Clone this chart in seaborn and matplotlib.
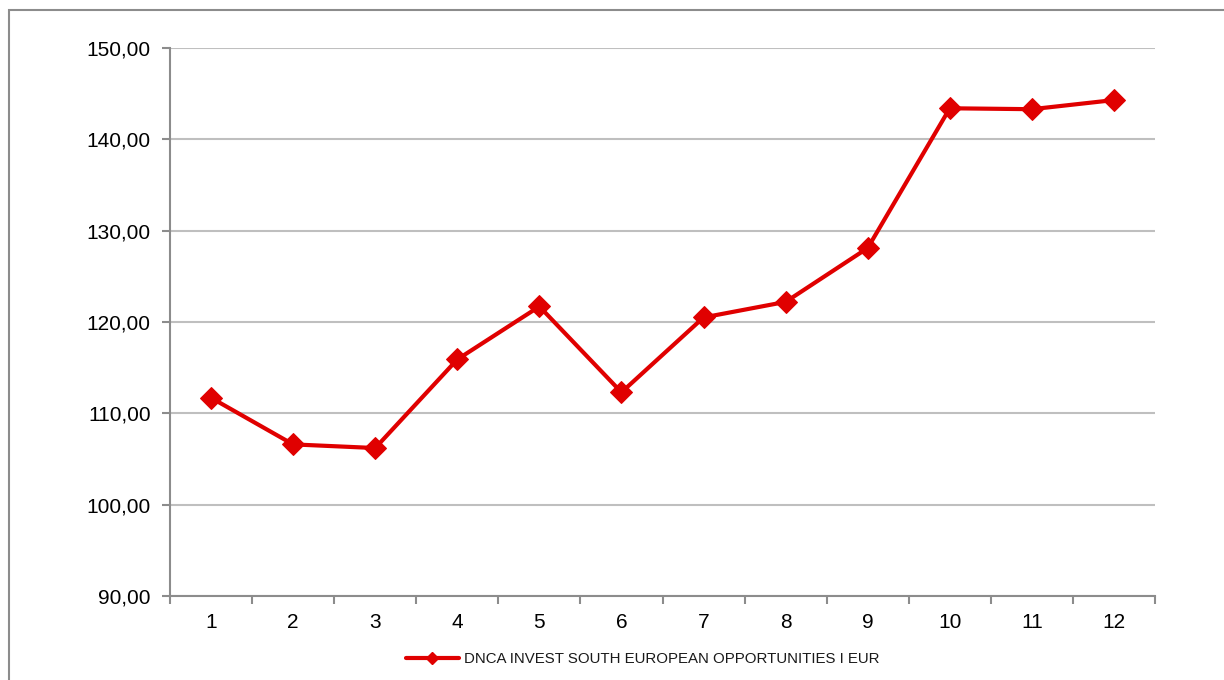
import matplotlib
matplotlib.use("Agg")
import matplotlib.pyplot as plt
import seaborn as sns
import pandas as pd
from matplotlib.ticker import FuncFormatter, FixedLocator
from matplotlib.patches import Rectangle

# data
periods = [1, 2, 3, 4, 5, 6, 7, 8, 9, 10, 11, 12]
values = [111.7, 106.6, 106.2, 115.9, 121.7, 112.3, 120.5, 122.2, 128.1, 143.4, 143.3, 144.3]
series_name = "DNCA INVEST SOUTH EUROPEAN OPPORTUNITIES I EUR"

df = pd.DataFrame({"period": periods, "value": values})

sns.set_style("white")
plt.rcParams['font.family'] = ['Liberation Sans', 'DejaVu Sans']

red = "#E00000"
fig = plt.figure(figsize=(12.24, 6.8), dpi=100)
ax = fig.add_axes([170 / 1224, 1 - 596 / 680, (1155 - 170) / 1224, (596 - 48) / 680])

# outer chart border
fig.patches.append(Rectangle((9 / 1224, -0.05), 1.1, 1 - 10 / 680 + 0.05, transform=fig.transFigure,
                             fill=False, edgecolor="#8c8c8c", linewidth=1.5))

sns.lineplot(data=df, x="period", y="value", ax=ax, color=red, linewidth=3,
             marker="D", markersize=11, markeredgecolor=red, label=series_name)

ax.set_ylim(90, 150)
ax.set_yticks(range(90, 151, 10))
ax.yaxis.set_major_formatter(FuncFormatter(lambda v, p: f"{v:.2f}".replace(".", ",")))
ax.set_xlim(0.5, 12.5)
ax.xaxis.set_major_locator(FixedLocator([p - 0.5 for p in periods] + [12.5]))
ax.xaxis.set_minor_locator(FixedLocator(periods))
ax.set_xticklabels([])
ax.set_xticklabels([str(p) for p in periods], minor=True)
ax.tick_params(axis="x", which="major", bottom=True, length=6, width=1.5, color="#8c8c8c", direction="out")
ax.tick_params(axis="x", which="minor", bottom=False, length=0, labelsize=15, pad=12, labelcolor="black")
ax.tick_params(axis="y", left=True, length=6, width=1.5, color="#8c8c8c", direction="out",
               labelsize=15, pad=8, labelcolor="black")
ax.set_xlabel("")
ax.set_ylabel("")

ax.grid(axis="y", color="#bfbfbf", linewidth=1.5)
ax.set_axisbelow(True)
for s in ["top", "right"]:
    ax.spines[s].set_visible(False)
for s in ["left", "bottom"]:
    ax.spines[s].set_color("#8c8c8c")
    ax.spines[s].set_linewidth(1.5)

ax.get_legend().remove()
handle = plt.Line2D([], [], color=red, linewidth=3, marker="D", markersize=6)
leg = fig.legend([handle], [series_name], loc="center", bbox_to_anchor=(643 / 1224, 1 - 659 / 680),
                 frameon=False, fontsize=10.8, handlelength=3.5, handletextpad=0.4)
for t in leg.get_texts():
    t.set_color("#1a1a1a")

fig.savefig("out.png", dpi=100)
